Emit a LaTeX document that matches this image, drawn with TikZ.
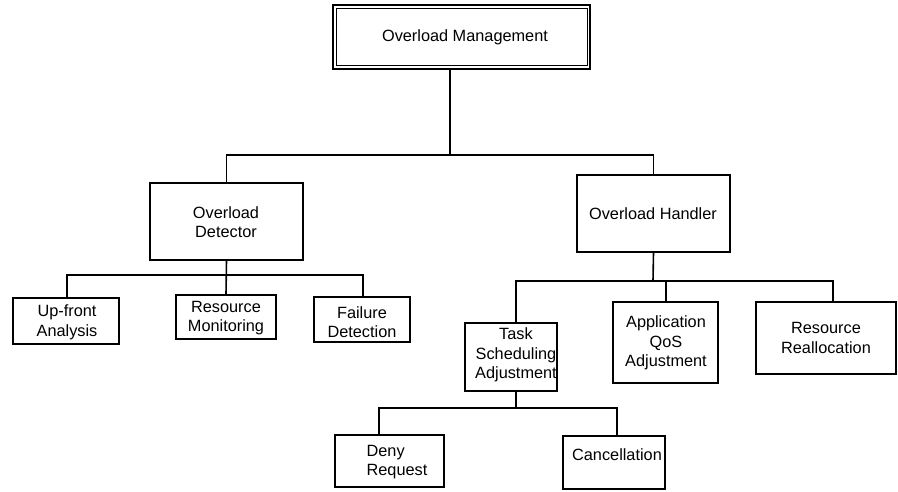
\documentclass[tikz,border=0pt]{standalone}
\usepackage{fontspec}
\setmainfont{Liberation Sans}
\begin{document}
\begin{tikzpicture}[x=1pt,y=-1pt,
  box/.style={draw=black,line width=1.5pt,rectangle,inner sep=0pt,fill=white},
  txt/.style={inner sep=0pt,align=center,font=\fontsize{16.3}{19.6}\selectfont},
  link/.style={draw=black,line width=1.6pt}]
\useasboundingbox (0,0) rectangle (898,491);
% box from (left,top) to (right,bottom)
\newcommand{\mkbox}[5]{%
  \node[box,minimum width={#4-#2},minimum height={#5-#3}] (#1) at ({(#2+#4)/2},{(#3+#5)/2}) {};}

% root with a double frame
\node[draw=black,line width=1.4pt,rectangle,inner sep=0pt,minimum width=257,minimum height=64] (root) at (461.5,37) {};
\node[draw=black,line width=1pt,rectangle,inner sep=0pt,minimum width=251,minimum height=57] (rootin) at (461.5,36.5) {};
\node[txt] (root-t) at (465,37) {Overload Management};

\mkbox{detector}{150}{183}{303}{260}
\node[txt] (detector-t) at (226,222) {Overload\\Detector};

\mkbox{handler}{577}{175}{730}{252}
\node[txt] (handler-t) at (653,214) {Overload Handler};

\mkbox{upfront}{13}{298}{119}{344}
\node[txt] (upfront-t) at (67,322) {Up-front\\Analysis};

\mkbox{monitor}{176}{295}{276}{339}
\node[txt] (monitor-t) at (226,318) {Resource\\Monitoring};

\mkbox{failure}{314}{297}{410}{342}
\node[txt] (failure-t) at (362,322) {Failure\\Detection};

\mkbox{task}{465}{323}{557}{391}
\node[txt] (task-t) at (516,355) {Task\\Scheduling\\Adjustment};

\mkbox{appqos}{613}{302}{718}{383}
\node[txt] (appqos-t) at (666,343) {Application\\QoS\\Adjustment};

\mkbox{realloc}{756}{302}{896}{374}
\node[txt] (realloc-t) at (826,338) {Resource\\Reallocation};

\mkbox{deny}{335}{435}{444}{487}
\node[txt,align=left] (deny-t) at (397,462) {Deny\\Request};

\mkbox{cancel}{563}{436}{665}{489}
\node[txt] (cancel-t) at (617,455) {Cancellation};

% bus junctions
\coordinate (j1) at (450,155);
\coordinate (j2) at (226,275);
\coordinate (j3) at (653,281);
\coordinate (j4) at (516,408);

% root to first level
\draw[link] (j1 |- root.south) -- (j1);
\draw[link] (detector.north) |- (j1) -| (handler.north);

% detector branch
\draw[link] (detector.south) -- (monitor.north);
\draw[link] ([xshift=1pt]upfront.north) |- (j2) -| ([xshift=1pt]failure.north);

% handler branch
\draw[link] (handler.south) -- (j3);
\draw[link] ([xshift=5pt]task.north) |- (j3) -| ([xshift=7pt]realloc.north);
\draw[link] ([xshift=0.5pt]appqos.north) -- ([xshift=0.5pt]appqos.north |- j3);

% task branch
\draw[link] ([xshift=5pt]task.south) -- (j4);
\draw[link] ([xshift=-10.5pt]deny.north) |- (j4) -| ([xshift=3pt]cancel.north);
\end{tikzpicture}
\end{document}
